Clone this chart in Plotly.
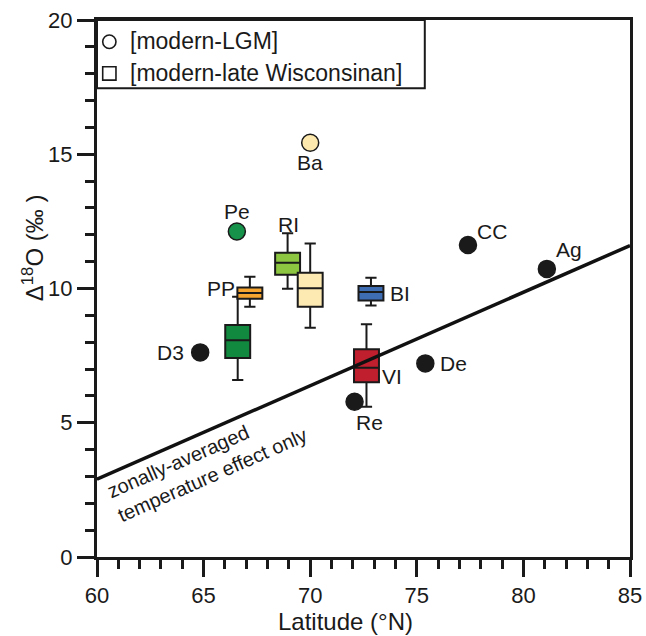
import plotly.graph_objects as go

# ---- data ----
# modern-LGM point estimates (circles)
pt_names = ["D3", "Pe", "Ba", "Re", "De", "CC", "Ag"]
pt_lat = [64.84, 66.56, 70.0, 72.08, 75.4, 77.4, 81.1]
pt_val = [7.62, 12.12, 15.43, 5.78, 7.21, 11.62, 10.73]
pt_colors = ["#1a1a1a", "#17924a", "#fde8ae", "#1a1a1a", "#1a1a1a", "#1a1a1a", "#1a1a1a"]

# modern-late Wisconsinan distributions (boxes)
box_names = ["Pe", "PP", "RI", "Ba", "BI", "VI"]
box_lat = [66.6, 67.17, 68.94, 70.0, 72.85, 72.64]
box_low = [6.59, 9.32, 9.99, 8.54, 9.37, 5.60]
box_q1 = [7.41, 9.62, 10.51, 9.32, 9.55, 6.51]
box_med = [8.07, 9.83, 10.96, 10.01, 9.87, 7.05]
box_q3 = [8.64, 10.04, 11.33, 10.59, 10.09, 7.74]
box_high = [9.69, 10.44, 12.06, 11.68, 10.40, 8.67]
box_colors = ["#11893f", "#f6a531", "#8dc641", "#fde9b2", "#3f6db4", "#c01f2d"]

# zonally averaged temperature effect line
line_lat = [60, 85]
line_val = [2.9, 11.6]

# site labels, anchored on the marks above
label_text = ["D3", "Pe", "Ba", "Re", "De", "CC", "Ag", "PP", "RI", "BI", "VI"]
label_x = [64.84, 66.56, 70.0, 72.08, 75.4, 77.4, 81.1, 67.17, 68.94, 72.85, 72.64]
label_y = [7.62, 12.12, 15.43, 5.78, 7.21, 11.62, 10.73, 9.83, 12.06, 9.87, 7.05]
label_dx = [-30, 0, 0, 15, 28, 24, 22, -29, 1, 29, 26]
label_dy = [0, 20, -20, -21, 0, 14, 19, 5, 9, -2, -9]

x_title = "Latitude (°N)"
y_title = "Δ<sup>18</sup>O (‰ )"

fig = go.Figure()

fig.add_trace(go.Scatter(
    x=line_lat, y=line_val, mode="lines",
    line=dict(color="#111111", width=3.5), hoverinfo="skip", showlegend=False))

for i, nm in enumerate(box_names):
    fig.add_trace(go.Box(
        x=[box_lat[i]], q1=[box_q1[i]], median=[box_med[i]], q3=[box_q3[i]],
        lowerfence=[box_low[i]], upperfence=[box_high[i]],
        width=1.17, whiskerwidth=0.45, fillcolor=box_colors[i],
        line=dict(color="#1a1a1a", width=2), boxpoints=False,
        name=nm, showlegend=False))

fig.add_trace(go.Scatter(
    x=pt_lat, y=pt_val, mode="markers",
    marker=dict(size=17, color=pt_colors, line=dict(color="#1a1a1a", width=1.5)),
    showlegend=False, hoverinfo="skip"))

for t, x, y, dx, dy in zip(label_text, label_x, label_y, label_dx, label_dy):
    fig.add_annotation(x=x, y=y, text=t, showarrow=False, xshift=dx, yshift=dy,
                       font=dict(size=21, color="#1a1a1a"))

# line label
fig.add_annotation(x=65.17, y=3.5, text="zonally-averaged<br>temperature effect only",
                   showarrow=False, textangle=-23.7, align="left",
                   font=dict(size=20, color="#1a1a1a"))

# axis titles (placed off-centre as in the original)
fig.add_annotation(xref="paper", yref="paper", x=0.467, y=-0.121, text=x_title,
                   showarrow=False, xanchor="center", yanchor="middle",
                   font=dict(size=24, color="#1a1a1a"))
fig.add_annotation(xref="paper", yref="paper", x=-0.12, y=0.575, text=y_title,
                   showarrow=False, textangle=-90, xanchor="center", yanchor="middle",
                   font=dict(size=24, color="#1a1a1a"))

# legend box with symbols
fig.add_shape(type="rect", xref="paper", yref="paper", x0=0, x1=0.615, y0=0.873, y1=1,
              line=dict(color="#1a1a1a", width=2), fillcolor="white", layer="above")
fig.add_shape(type="circle", xref="paper", yref="paper", x0=0.0107, x1=0.0356,
              y0=0.947, y1=0.972, line=dict(color="#1a1a1a", width=1.6), layer="above")
fig.add_shape(type="rect", xref="paper", yref="paper", x0=0.0107, x1=0.0356,
              y0=0.888, y1=0.913, line=dict(color="#1a1a1a", width=1.6), layer="above")
fig.add_annotation(xref="paper", yref="paper", x=0.058, y=0.960, xanchor="left",
                   yanchor="middle", text="[modern-LGM]", showarrow=False,
                   font=dict(size=23, color="#1a1a1a"))
fig.add_annotation(xref="paper", yref="paper", x=0.058, y=0.901, xanchor="left",
                   yanchor="middle", text="[modern-late Wisconsinan]", showarrow=False,
                   font=dict(size=23, color="#1a1a1a"))

axis_common = dict(showgrid=False, zeroline=False, showline=True, linecolor="#1a1a1a",
                   linewidth=3, mirror=True, ticks="outside", tickcolor="#1a1a1a",
                   ticklen=17, tickwidth=2.5, automargin=False,
                   tickfont=dict(size=22, color="#1a1a1a"))

fig.update_xaxes(range=[60, 85], dtick=5, tick0=60,
                 minor=dict(dtick=1, ticks="outside", ticklen=9, tickwidth=2.5, tickcolor="#1a1a1a"),
                 **axis_common)
fig.update_yaxes(range=[0, 20], dtick=5, tick0=0,
                 minor=dict(dtick=1, ticks="outside", ticklen=9, tickwidth=2.5, tickcolor="#1a1a1a"),
                 **axis_common)

fig.update_layout(
    width=646, height=636,
    margin=dict(l=97, r=16, t=20, b=79),
    plot_bgcolor="white", paper_bgcolor="white",
    font=dict(family="Liberation Sans, Arial, Helvetica, sans-serif", color="#1a1a1a"),
    showlegend=False,
)

fig.write_html("out.html")
